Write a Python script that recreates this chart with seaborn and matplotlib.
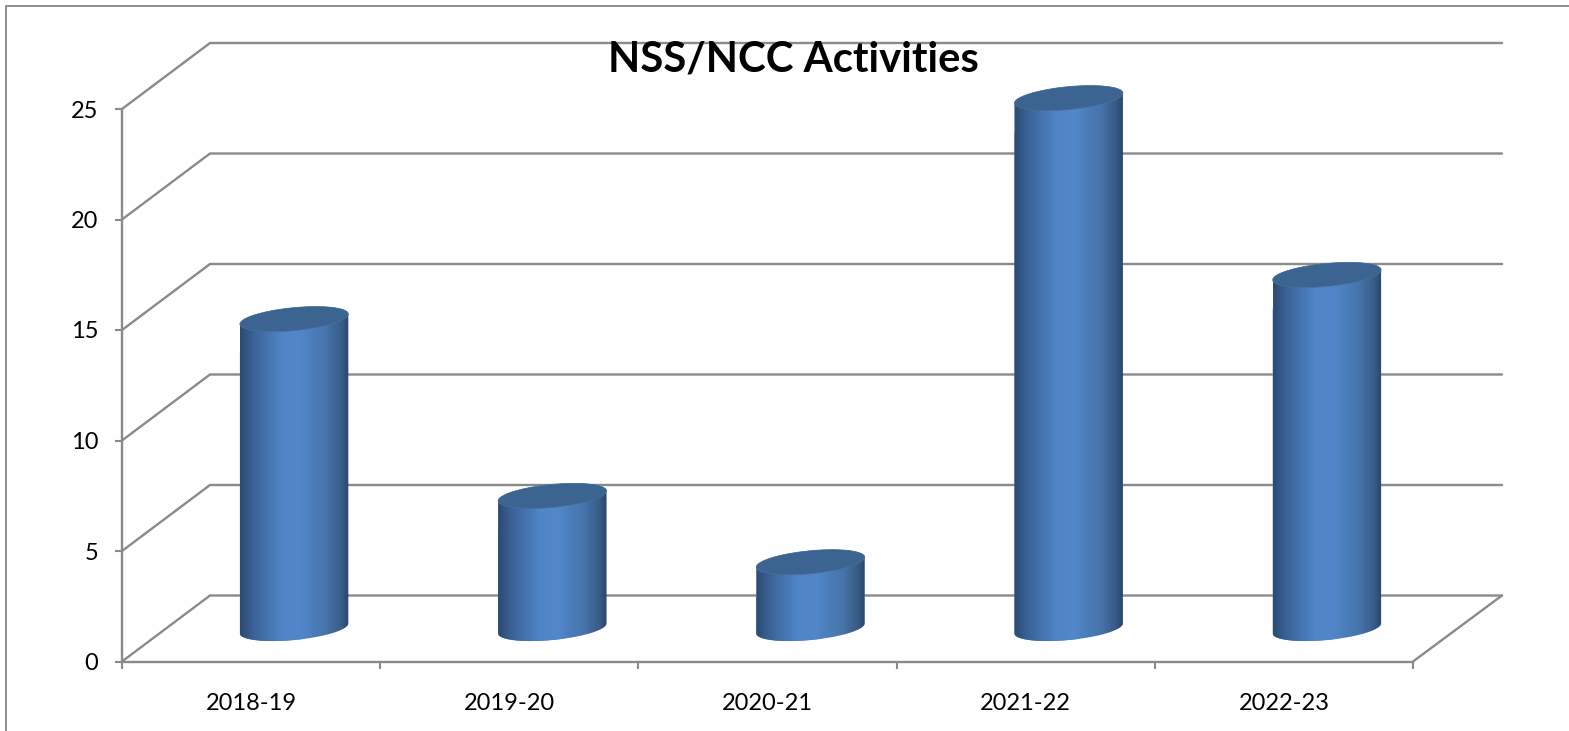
"""
NSS/NCC Activities - 3D style cylinder column chart.
"""

import numpy as np
import pandas as pd
import matplotlib
matplotlib.use("Agg")
import matplotlib.pyplot as plt
import seaborn as sns
from matplotlib.colors import LinearSegmentedColormap
from matplotlib.lines import Line2D
from matplotlib.patches import PathPatch
from matplotlib.path import Path
from matplotlib.transforms import Affine2D, IdentityTransform

years = ["2018-19", "2019-20", "2020-21", "2021-22", "2022-23"]
activities = [14, 6, 3, 24, 16]
y_ticks = [0, 5, 10, 15, 20, 25]

GRID = "#8a8a8a"
TOP_COLOR = "#3c6491"
W, H = 1569, 731
DEPTH_X, DEPTH_Y = 88, 66   # back wall offset, pixels

sns.set_style("white")
plt.rcParams["font.family"] = ["Lato", "DejaVu Sans"]
plt.rcParams["text.color"] = "black"
plt.rcParams["xtick.labelcolor"] = "black"
plt.rcParams["ytick.labelcolor"] = "black"

fig = plt.figure(figsize=(W / 100, H / 100), dpi=100)
ax = fig.add_axes([122 / W, (H - 661.5) / H, 1291 / W, 552.5 / H])

df = pd.DataFrame({"year": years, "count": activities})
sns.barplot(data=df, x="year", y="count", width=0.42, color="#4f82c4",
            saturation=1, zorder=3, ax=ax)

ax.set_xlim(-0.5, len(years) - 0.5)
ax.set_ylim(0, 25)
ax.set_xlabel("")
ax.set_ylabel("")

# axis lines and ticks
for side in ["top", "right"]:
    ax.spines[side].set_visible(False)
for side in ["left", "bottom"]:
    ax.spines[side].set_color(GRID)
    ax.spines[side].set_linewidth(1.7)
    ax.spines[side].set_zorder(2)

ax.set_yticks(y_ticks)
ax.set_xticks(np.arange(len(years) + 1) - 0.5)
ax.set_xticklabels([])
ax.set_xticks(np.arange(len(years)), labels=years, minor=True)
ax.tick_params(axis="x", which="major", length=5, width=1.5, color=GRID,
               bottom=True)
ax.tick_params(axis="x", which="minor", length=0, pad=23, labelsize=17,
               bottom=True)
ax.tick_params(axis="y", length=5, width=1.5, color=GRID, pad=12, labelsize=17,
               left=True)

# back wall lines and the diagonals joining them to the value axis
fig.canvas.draw()
to_px = ax.transData.transform
for v in y_ticks:
    x0, y0 = to_px((-0.5, v))
    x1, _ = to_px((len(years) - 0.5, v))
    xs = [x0, x0 + DEPTH_X, x1 + DEPTH_X + 1]
    ys = [y0, y0 + DEPTH_Y, y0 + DEPTH_Y]
    fig.add_artist(Line2D(xs, ys, color=GRID, lw=1.7, zorder=1,
                          transform=IdentityTransform()))
x0, y0 = to_px((len(years) - 0.5, 0))
fig.add_artist(Line2D([x0, x0 + DEPTH_X + 1], [y0, y0 + DEPTH_Y], color=GRID,
                      lw=1.7, zorder=1, transform=IdentityTransform()))
ax.set_zorder(2)
ax.patch.set_alpha(0)

# cylinders sit halfway back on the floor
mid_depth = ax.transData + Affine2D().translate(DEPTH_X / 2 - 1, DEPTH_Y / 2)
shade = LinearSegmentedColormap.from_list(
    "cyl",
    [(0.0, "#2c4a72"), (0.12, "#3a6296"), (0.38, "#4f84c6"), (0.55, "#5287cb"),
     (0.80, "#4673a9"), (0.93, "#375c88"), (1.0, "#2a466b")],
)
gradient = np.linspace(0, 1, 256).reshape(1, -1)


def rim(cx, cy, a, start, stop, n=60):
    """Points on the tilted ellipse of a cylinder end, in pixels."""
    t = np.linspace(start, stop, n)
    return np.column_stack([
        cx + a * np.cos(t),
        cy + 11.5 * np.sin(t) + 5 * np.cos(t),
    ])


for bar in list(ax.patches):
    px = mid_depth.transform([
        (bar.get_x(), 0),
        (bar.get_x() + bar.get_width(), bar.get_height()),
    ])
    a = (px[1, 0] - px[0, 0]) / 2
    cx = (px[0, 0] + px[1, 0]) / 2
    base_y, top_y = px[0, 1], px[1, 1]

    # outline: bottom half of the base rim, then up to the top rim
    lower = rim(cx, base_y, a, np.pi, 2 * np.pi)
    upper = rim(cx, top_y, a, 0, np.pi)
    outline = Path(np.vstack([lower, upper, lower[:1]]), closed=True)

    bar.set_clip_box(fig.bbox)
    bar.set_clip_path(outline, IdentityTransform())
    im = ax.imshow(gradient, cmap=shade, aspect="auto", zorder=3.1,
                   extent=(bar.get_x(), bar.get_x() + bar.get_width(),
                           -2, bar.get_height() + 2),
                   transform=mid_depth, interpolation="bilinear")
    im.set_clip_box(fig.bbox)
    im.set_clip_path(outline, IdentityTransform())

    lid = PathPatch(Path(rim(cx, top_y, a, 0, 2 * np.pi, 120), closed=True),
                    facecolor=TOP_COLOR, edgecolor="#4a709c", lw=0.5,
                    transform=IdentityTransform(), zorder=3.2, clip_on=False)
    ax.add_patch(lid)

ax.set_xlim(-0.5, len(years) - 0.5)
ax.set_ylim(0, 25)

fig.text(793 / W, (H - 59) / H, "NSS/NCC Activities", fontsize=30.2,
         fontweight="bold", color="black", ha="center", va="center", zorder=5)

# frame of the pasted picture (left and top only)
fig.add_artist(Line2D([6, 6, W], [0, H - 6, H - 6], color="#8c8c8c", lw=1.4,
                      transform=IdentityTransform()))

fig.savefig("out.png", dpi=100)
plt.close(fig)
